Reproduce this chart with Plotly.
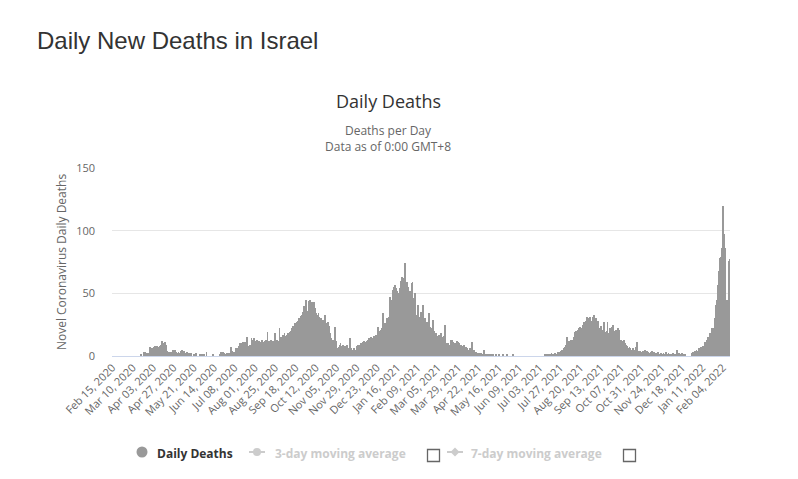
import pandas as pd
import plotly.graph_objects as go

# ---------------- data (daily new deaths) ----------------
START_DATE = "2020-02-15"
feb20 = [0] * 15
mar20 = [0] * 19 + [1, 0, 0, 3, 3, 1, 0, 2, 2, 0, 7, 5]
apr20 = [6, 5, 6, 7, 8, 7, 7, 8, 6, 7, 8, 9, 12, 8, 9, 10, 11, 9, 3, 4,
         3, 3, 2, 3, 3, 5, 5, 4, 5, 3]
may20 = [2, 2, 3, 2, 2, 4, 5, 0, 4, 3, 2, 2, 3, 0, 2, 2, 1, 2, 0, 0,
         1, 0, 0, 2, 0, 0, 0, 1, 0, 0, 1]
jun20 = [0, 1, 0, 0, 3, 0, 0, 0, 0, 0, 0, 0, 1, 0, 0, 0, 0, 0, 0, 0,
         1, 3, 2, 3, 3, 2, 1, 0, 2, 0]
jul20 = [2, 0, 2, 7, 4, 3, 3, 2, 3, 6, 5, 6, 8, 10, 9, 8, 10, 11, 9, 11,
         9, 10, 15, 8, 7, 9, 8, 14, 12, 13, 14]
aug20 = [11, 12, 10, 13, 11, 12, 10, 11, 13, 12, 11, 9, 12, 13, 12, 19, 3, 12, 11, 13,
         12, 12, 11, 12, 18, 12, 13, 3, 12, 22, 14]
sep20 = [15, 14, 17, 16, 18, 15, 16, 17, 18, 16, 19, 17, 20, 22, 24, 21, 26, 25, 23, 27,
         28, 30, 26, 32, 33, 30, 35, 40, 34, 45]
oct20 = [38, 36, 23, 44, 45, 42, 43, 41, 40, 43, 38, 34, 33, 32, 34, 31, 29, 30, 28, 29,
         27, 26, 33, 26, 25, 27, 24, 16, 18, 14, 12]
nov20 = [13, 10, 15, 23, 12, 6, 5, 7, 9, 10, 8, 7, 9, 6, 8, 5, 7, 9, 6, 5,
         14, 4, 6, 3, 5, 6, 4, 5, 8, 9]
dec20 = [8, 9, 7, 10, 8, 11, 9, 12, 10, 11, 12, 13, 10, 14, 12, 15, 13, 14, 12, 16,
         15, 17, 16, 23, 17, 18, 20, 21, 22, 34, 21]
jan21 = [24, 26, 22, 30, 28, 31, 47, 40, 45, 18, 53, 55, 57, 50, 54, 52, 42, 50, 54, 60,
         58, 63, 62, 60, 74, 50, 59, 48, 55, 45, 52]
feb21 = [45, 58, 59, 46, 45, 50, 33, 32, 41, 30, 29, 31, 35, 15, 41, 28, 26, 30, 25, 27,
         24, 34, 22, 23, 21, 22, 29, 20]
mar21 = [17, 15, 18, 16, 14, 17, 15, 16, 18, 14, 15, 16, 25, 10, 9, 8, 10, 9, 8, 13,
         12, 13, 11, 9, 10, 8, 12, 9, 11, 10, 8]
apr21 = [9, 7, 8, 6, 9, 5, 7, 6, 5, 4, 5, 6, 5, 11, 2, 3, 5, 2, 3, 1,
         2, 1, 2, 1, 2, 0, 1, 5, 1, 0]
may21 = [1, 0, 1, 1, 0, 0, 1, 0, 1, 0, 0, 1, 0, 0, 0, 1, 0, 0, 0, 0,
         1, 0, 0, 0, 1, 1, 0, 0, 0, 0, 0]
jun21 = [0, 1] + [0] * 28
jul21 = [0, 0, 0, 0, 0, 0, 0, 0, 1, 0, 0, 1, 0, 1, 1, 0, 2, 1, 0, 1,
         2, 0, 1, 3, 2, 3, 2, 4, 5, 4, 6]
aug21 = [6, 7, 9, 15, 11, 12, 9, 12, 13, 12, 13, 15, 19, 17, 20, 18, 21, 22, 20, 23,
         21, 22, 25, 27, 26, 28, 27, 31, 30, 22, 31]
sep21 = [27, 25, 28, 31, 33, 29, 30, 27, 23, 28, 18, 22, 24, 20, 16, 21, 27, 19, 15, 20,
         27, 16, 18, 22, 19, 23, 25, 18, 17, 20]
oct21 = [21, 18, 22, 20, 21, 12, 13, 11, 12, 13, 9, 10, 9, 8, 6, 5, 7, 6, 4, 5,
         6, 4, 5, 7, 4, 11, 3, 4, 3, 4, 3]
nov21 = [3, 4, 2, 5, 3, 2, 4, 3, 1, 2, 3, 4, 2, 1, 3, 2, 0, 2, 1, 3,
         1, 0, 2, 1, 0, 2, 1, 1, 3, 0]
dec21 = [1, 2, 0, 1, 1, 0, 2, 1, 0, 1, 1, 5, 1, 2, 1, 0, 1, 2, 1, 0,
         1, 0, 0, 0, 0, 0, 0, 0, 2, 1, 3]
jan22 = [2, 4, 3, 5, 4, 3, 6, 5, 7, 6, 5, 8, 7, 11, 10, 13, 12, 15, 14, 18,
         17, 22, 19, 21, 22, 30, 41, 45, 57, 65, 68]
feb22 = [78, 79, 86, 120, 97, 90, 86, 44, 45, 41, 76, 77]

Y_TICKS = [0, 50, 100, 150]
TICK_STEP = 24

deaths = (feb20 + mar20 + apr20 + may20 + jun20 + jul20 + aug20 + sep20 + oct20
          + nov20 + dec20 + jan21 + feb21 + mar21 + apr21 + may21 + jun21 + jul21
          + aug21 + sep21 + oct21 + nov21 + dec21 + jan22 + feb22)
dates = pd.date_range(START_DATE, periods=len(deaths), freq="D")
cats = [d.strftime("%b %d, %Y") for d in dates]
tick_labels = cats[::TICK_STEP]

# ---------------- geometry helpers (pixel -> paper) ----------------
W, H = 798, 479
L, R, T, B = 112, 730, 168, 356


def px(x):
    return (x - L) / (R - L)


def py(y):
    return (B - y) / (B - T)


FONT = "Open Sans"

fig = go.Figure()
fig.add_trace(go.Bar(
    x=cats, y=deaths, name="Daily Deaths",
    marker=dict(color="#999999", line=dict(width=0)),
    showlegend=False,
))

annotations = [
    dict(text="Daily Deaths", x=px(388), y=py(101), font=dict(size=18, color="#333333")),
    dict(text="Deaths per Day<br>Data as of 0:00 GMT+8", x=px(388), y=py(138.5),
         font=dict(size=12, color="#666666")),
    dict(text="<b>Daily Deaths</b>", x=px(155), y=py(453), xanchor="left",
         font=dict(size=12, color="#333333")),
    dict(text="<b>3-day moving average</b>", x=px(273), y=py(453), xanchor="left",
         font=dict(size=12, color="#cccccc")),
    dict(text="<b>7-day moving average</b>", x=px(469), y=py(453), xanchor="left",
         font=dict(size=12, color="#cccccc")),
]
for a in annotations:
    a.setdefault("xanchor", "center")
    a.update(xref="paper", yref="paper", yanchor="middle", showarrow=False)
    a["font"]["family"] = FONT

shapes = [
    # legend: Daily Deaths circle
    dict(type="circle", x0=px(136.5), x1=px(147.5), y0=py(446.5), y1=py(457.5),
         fillcolor="#999999", line=dict(width=0)),
    # 3-day symbol
    dict(type="line", x0=px(249), x1=px(265), y0=py(452), y1=py(452),
         line=dict(color="#cccccc", width=2)),
    dict(type="circle", x0=px(253), x1=px(261), y0=py(448), y1=py(456),
         fillcolor="#cccccc", line=dict(width=0)),
    # 7-day symbol (diamond)
    dict(type="line", x0=px(447), x1=px(463), y0=py(452), y1=py(452),
         line=dict(color="#cccccc", width=2)),
    dict(type="path",
         path="M {a},{b} L {c},{d} L {a},{e} L {f},{d} Z".format(
             a=px(455), b=py(447.5), c=px(459.5), d=py(452), e=py(456.5), f=px(450.5)),
         fillcolor="#cccccc", line=dict(width=0)),
    # checkboxes
    dict(type="rect", x0=px(427.5), x1=px(439.5), y0=py(449.5), y1=py(461.5),
         fillcolor="white", line=dict(color="#666666", width=1.3)),
    dict(type="rect", x0=px(623.5), x1=px(635.5), y0=py(449.5), y1=py(461.5),
         fillcolor="white", line=dict(color="#666666", width=1.3)),
]
for s in shapes:
    s.update(xref="paper", yref="paper", layer="above")

fig.update_layout(
    width=W, height=H,
    margin=dict(l=L, r=W - R, t=T, b=H - B, pad=0),
    paper_bgcolor="white", plot_bgcolor="white",
    bargap=0,
    showlegend=False,
    font=dict(family=FONT, color="#666666"),
    title=dict(text="Daily New Deaths in Israel", xref="container", yref="container",
               x=37 / W, xanchor="left", y=1 - 41 / H, yanchor="middle",
               font=dict(family="Liberation Sans, Arial", size=24, color="#333333")),
    xaxis=dict(
        type="category", range=[-0.5, len(cats) - 0.5],
        tickmode="array", tickvals=tick_labels, ticktext=tick_labels,
        tickangle=-45, tickfont=dict(size=11, color="#666666", family=FONT),
        showgrid=False, showline=True, linecolor="#ccd6eb", linewidth=1,
        ticks="", zeroline=False, fixedrange=True,
    ),
    yaxis=dict(
        range=[0, 150], tickmode="array", tickvals=Y_TICKS,
        tickfont=dict(size=11, color="#666666", family=FONT),
        gridcolor="#e6e6e6", gridwidth=1, showline=False, zeroline=False,
        ticks="", ticklabelstandoff=16,
        title=dict(text="Novel Coronavirus Daily Deaths", standoff=6,
                   font=dict(size=12, color="#666666", family=FONT)),
    ),
    annotations=annotations,
    shapes=shapes,
)

fig.write_html("out.html")
